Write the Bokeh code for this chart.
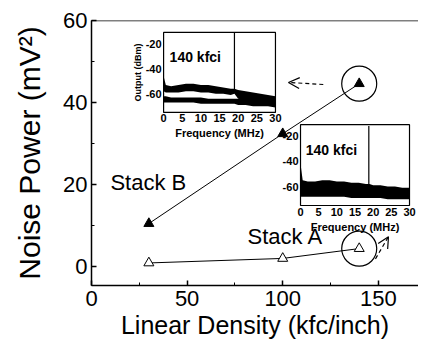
from bokeh.plotting import figure
from bokeh.models import (Range1d, SingleIntervalTicker, Arrow, OpenHead, Span)
from bokeh.core.properties import value
from bokeh.embed import file_html
from bokeh.resources import INLINE

# ---------------- data ----------------
density = [30, 100, 140]                 # kfc/inch
stack_b = [10.5, 32.4, 44.6]             # mV^2
stack_a = [0.9, 2.0, 4.4]                # mV^2

x_ticks_major = 50
y_ticks_major = 20

# inset 1 : 140 kfci spectrum, Stack B (two traces)
in1_freq = [0, 0.6, 2, 4, 6, 8, 10, 12, 14, 16, 18, 19, 20, 22, 24, 26, 28, 30]
in1_up_hi = [-46, -53, -54, -53, -52, -52, -53, -53, -54, -55, -56, -56, -57, -58, -59, -60, -61, -62]
in1_up_lo = [-58, -59, -59, -59, -58, -58, -59, -59, -60, -60, -61, -60, -64, -65, -66, -67, -67, -68]
in1_lo_hi = [-62, -62, -63, -63, -63, -63, -63, -64, -64, -64, -64, -64, -64, -64, -65, -65, -66, -66]
in1_lo_lo = [-67, -67, -67, -67, -67, -67, -68, -68, -68, -68, -68, -68, -69, -69, -70, -70, -70, -71]
in1_peak = (19.0, -57, -11)

# inset 2 : 140 kfci spectrum, Stack A
in2_freq = [0, 0.6, 2, 4, 6, 8, 10, 12, 14, 16, 18, 19, 20, 22, 24, 26, 28, 30]
in2_hi = [-42, -55, -56, -56, -55, -55, -56, -56, -57, -57, -58, -58, -59, -59, -60, -60, -61, -61]
in2_lo = [-68, -68, -68, -68, -68, -68, -68, -68, -69, -69, -69, -69, -69, -69, -70, -70, -70, -70]
in2_peak = (18.8, -58, -12)

freq_ticks = [0, 5, 10, 15, 20, 25, 30]
db_ticks = [-20, -40, -60]
inset_freq_range = (0, 30)
inset_db_range = (-75, -11)

# ---------------- figure ----------------
X0, X1 = 0, 171
Y0, Y1 = -4.6, 60
FONT = value("Liberation Sans")

p = figure(width=418, height=345, output_backend="svg", toolbar_location=None,
           x_range=Range1d(X0, X1), y_range=Range1d(Y0, Y1),
           min_border_left=91, min_border_right=0, min_border_top=20,
           min_border_bottom=60)
p.outline_line_color = None
p.xgrid.visible = False
p.ygrid.visible = False
p.background_fill_color = "white"

p.xaxis.ticker = SingleIntervalTicker(interval=x_ticks_major, num_minor_ticks=2)
p.yaxis.ticker = SingleIntervalTicker(interval=y_ticks_major, num_minor_ticks=2)
for ax in (p.xaxis[0], p.yaxis[0]):
    ax.axis_line_width = 1.5
    ax.axis_line_color = "black"
    ax.major_tick_in = 5
    ax.major_tick_out = 0
    ax.minor_tick_in = 3
    ax.minor_tick_out = 0
    ax.major_tick_line_width = 1.5
    ax.major_label_text_font = "Liberation Sans"
    ax.major_label_text_font_size = "22px"
    ax.major_label_text_color = "black"
    ax.axis_label_text_font = "Liberation Sans"
    ax.axis_label_text_font_style = "normal"
    ax.axis_label_text_color = "black"

p.xaxis.axis_label = "Linear Density (kfc/inch)"
p.xaxis.axis_label_text_font_size = "25px"
p.xaxis.major_label_standoff = 5
p.xaxis.axis_label_standoff = 2

p.yaxis.axis_label = "Noise Power (mV²)"
p.yaxis.axis_label_text_font_size = "30px"
p.yaxis.major_label_standoff = 4
p.yaxis.axis_label_standoff = 14

p.add_layout(Span(location=Y1, dimension="width", line_color="black",
                  line_width=1.5))

# ---------------- main data ----------------
p.line(density, stack_b, line_color="black", line_width=1)
p.scatter(density, stack_b, marker="triangle", size=10, fill_color="black",
          line_color="black")
p.line(density, stack_a, line_color="black", line_width=1)
p.scatter(density, stack_a, marker="triangle", size=10, fill_color="white",
          line_color="black", line_width=1)

# highlight circles around the 140 kfci points
p.scatter([density[-1]], [stack_b[-1]], marker="circle", size=35,
          fill_color=None, line_color="black", line_width=1.2)
p.scatter([density[-1]], [stack_a[-1]], marker="circle", size=35,
          fill_color=None, line_color="black", line_width=1.2)

p.text([9.9], [20.5], text=["Stack B"], text_font=FONT, text_font_size="22px",
       text_align="left", text_baseline="middle", text_color="black")
p.text([81.6], [7.3], text=["Stack A"], text_font=FONT, text_font_size="22px",
       text_align="left", text_baseline="middle", text_color="black")

p.add_layout(Arrow(x_start=121.2, y_start=44.4, x_end=103.0, y_end=44.9,
                   line_dash="4 3", line_width=1.2, line_color="black",
                   end=OpenHead(size=11, line_width=1.2, line_color="black")))
p.add_layout(Arrow(x_start=148.5, y_start=1.9, x_end=155.3, y_end=7.3,
                   line_dash="4 3", line_width=1.2, line_color="black",
                   end=OpenHead(size=11, line_width=1.2, line_color="black")))

# ---------------- insets ----------------
def inset_range(m0, m1, b0, b1, u0, u1):
    s = (u1 - u0) / (b1 - b0)
    return Range1d(u0 - (b0 - m0) * s, u1 + (m1 - b1) * s)

insets = {
    "in1": (37.7, 96.2, 37.6, 57.1),
    "in2": (109.3, 166.3, 14.9, 34.6),
}
for name, (bx0, bx1, by0, by1) in insets.items():
    p.extra_x_ranges[name + "x"] = inset_range(X0, X1, bx0, bx1, *inset_freq_range)
    p.extra_y_ranges[name + "y"] = inset_range(Y0, Y1, by0, by1, *inset_db_range)


def draw_inset(name, ylabel):
    kw = dict(x_range_name=name + "x", y_range_name=name + "y")
    f0, f1 = inset_freq_range
    d0, d1 = inset_db_range
    p.quad(left=[f0], right=[f1], bottom=[d0], top=[d1], fill_color="white",
           line_color="black", line_width=1.2, **kw)
    p.text(freq_ticks, [d0] * len(freq_ticks), text=[str(t) for t in freq_ticks],
           text_font=FONT, text_font_style="bold", text_font_size="11px",
           text_align="center", text_baseline="top", y_offset=2, **kw)
    p.text([f0] * len(db_ticks), db_ticks, text=[str(t) for t in db_ticks],
           text_font=FONT, text_font_style="bold", text_font_size="11px",
           text_align="right", text_baseline="middle", x_offset=-2, **kw)
    p.text([(f0 + f1) / 2], [d0], text=["Frequency (MHz)"], text_font=FONT,
           text_font_style="bold", text_font_size="11px", text_align="center",
           text_baseline="top", y_offset=15, **kw)
    p.text([8.5], [-31], text=["140 kfci"], text_font=FONT,
           text_font_style="bold", text_font_size="14px", text_align="center",
           text_baseline="middle", **kw)
    if ylabel:
        p.text([f0], [(d0 + d1) / 2], text=["Output (dBm)"], text_font=FONT,
               text_font_style="bold", text_font_size="9px", text_align="center",
               text_baseline="bottom", angle=1.5708, x_offset=-21, **kw)
    return kw


kw1 = draw_inset("in1", True)
p.varea(x=in1_freq, y1=in1_up_lo, y2=in1_up_hi, fill_color="black", **kw1)
p.varea(x=in1_freq, y1=in1_lo_lo, y2=in1_lo_hi, fill_color="black", **kw1)
p.segment(x0=[in1_peak[0]], y0=[in1_peak[1]], x1=[in1_peak[0]], y1=[in1_peak[2]],
          line_color="black", line_width=1.2, **kw1)

kw2 = draw_inset("in2", False)
p.varea(x=in2_freq, y1=in2_lo, y2=in2_hi, fill_color="black", **kw2)
p.segment(x0=[in2_peak[0]], y0=[in2_peak[1]], x1=[in2_peak[0]], y1=[in2_peak[2]],
          line_color="black", line_width=1.2, **kw2)

open("out.html", "w").write(file_html(p, INLINE))
